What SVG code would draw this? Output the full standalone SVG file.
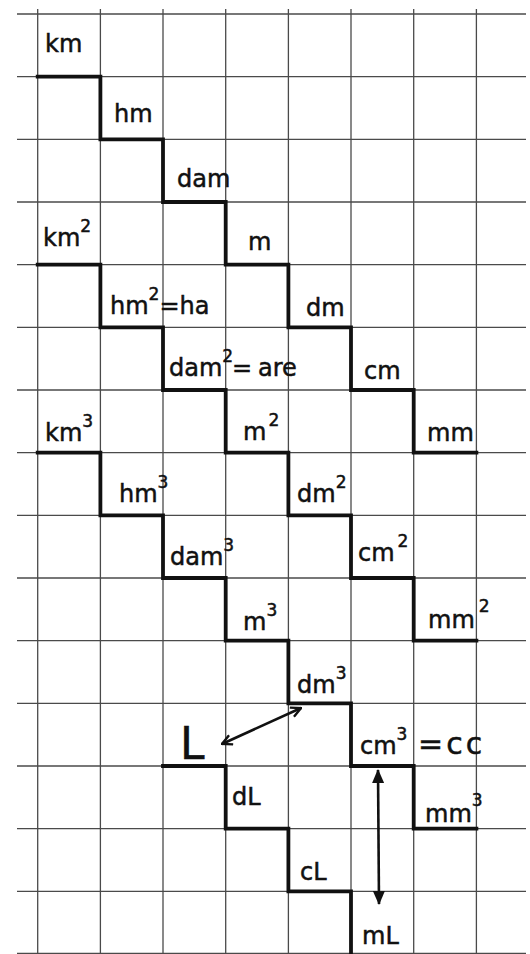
<svg xmlns="http://www.w3.org/2000/svg" width="530" height="954" viewBox="0 0 530 954">
<style>
.grid line{stroke:#4a4a4a;stroke-width:1.3}
.step{fill:none;stroke:#111;stroke-width:3.8;stroke-linejoin:miter;stroke-linecap:square}
text{font-family:"DejaVu Sans","Liberation Sans",sans-serif;font-size:24px;fill:#111;stroke:#111;stroke-width:0.5}
.sup{font-size:17px}
.arr{stroke:#111;stroke-width:2.6;fill:none}
</style>
<defs>
<marker id="open" viewBox="0 0 12 12" refX="11" refY="6" markerWidth="12" markerHeight="12" markerUnits="userSpaceOnUse" orient="auto-start-reverse">
<path d="M1 1 L11 6 L1 11" fill="none" stroke="#111" stroke-width="2.4"/>
</marker>
<marker id="tri" viewBox="0 0 14 12" refX="13" refY="6" markerWidth="16" markerHeight="12" markerUnits="userSpaceOnUse" orient="auto-start-reverse">
<path d="M0 0 L14 6 L0 12 Z" fill="#111"/>
</marker>
</defs>
<rect width="530" height="954" fill="#fff"/>
<g class="grid" id="grid">
<line x1="17" y1="14" x2="526" y2="14"/>
<line x1="17" y1="76.7" x2="526" y2="76.7"/>
<line x1="17" y1="139.3" x2="526" y2="139.3"/>
<line x1="17" y1="202" x2="526" y2="202"/>
<line x1="17" y1="264.7" x2="526" y2="264.7"/>
<line x1="17" y1="327.3" x2="526" y2="327.3"/>
<line x1="17" y1="390" x2="526" y2="390"/>
<line x1="17" y1="452.7" x2="526" y2="452.7"/>
<line x1="17" y1="515.3" x2="526" y2="515.3"/>
<line x1="17" y1="578" x2="526" y2="578"/>
<line x1="17" y1="640.7" x2="526" y2="640.7"/>
<line x1="17" y1="703.3" x2="526" y2="703.3"/>
<line x1="17" y1="766" x2="526" y2="766"/>
<line x1="17" y1="828.7" x2="526" y2="828.7"/>
<line x1="17" y1="891.3" x2="526" y2="891.3"/>
<line x1="17" y1="953.3" x2="526" y2="953.3"/>
<line x1="37.7" y1="9" x2="37.7" y2="954"/>
<line x1="100.4" y1="9" x2="100.4" y2="954"/>
<line x1="163" y1="9" x2="163" y2="954"/>
<line x1="225.7" y1="9" x2="225.7" y2="954"/>
<line x1="288.4" y1="9" x2="288.4" y2="954"/>
<line x1="351" y1="9" x2="351" y2="954"/>
<line x1="413.7" y1="9" x2="413.7" y2="954"/>
<line x1="476.4" y1="9" x2="476.4" y2="954"/>
</g>
<g id="stairs">
<path id="stair-length" class="step" d="M37.7 76.7 H100.4 V139.3 H163 V202 H225.7 V264.7 H288.4 V327.3 H351 V390 H413.7 V452.7 H476.4"/>
<path id="stair-area" class="step" d="M37.7 264.7 H100.4 V327.3 H163 V390 H225.7 V452.7 H288.4 V515.3 H351 V578 H413.7 V640.7 H476.4"/>
<path id="stair-volume" class="step" d="M37.7 452.7 H100.4 V515.3 H163 V578 H225.7 V640.7 H288.4 V703.3 H351 V766 H413.7 V828.7 H476.4"/>
<path id="stair-litre" class="step" d="M163 766 H225.7 V828.7 H288.4 V891.3 H351 V954"/>
</g>
<g id="connectors">
<line class="arr" x1="222" y1="744" x2="301" y2="708" marker-start="url(#open)" marker-end="url(#open)"/>
<line class="arr" x1="378" y1="770" x2="379" y2="904" marker-start="url(#tri)" marker-end="url(#tri)"/>
</g>
<g id="km"><text x="45" y="52">km</text></g>
<g id="hm"><text x="114" y="122">hm</text></g>
<g id="dam"><text x="177" y="187">dam</text></g>
<g id="m"><text x="248" y="250">m</text></g>
<g id="dm"><text x="306" y="316">dm</text></g>
<g id="cm"><text x="364" y="379">cm</text></g>
<g id="mm"><text x="427" y="441">mm</text></g>
<g id="km2"><text x="43" y="246">km<tspan class="sup" dy="-14">2</tspan></text></g>
<g id="hm2"><text x="110" y="314">hm<tspan class="sup" dy="-14">2</tspan><tspan dy="14">=ha</tspan></text></g>
<g id="dam2"><text x="169" y="376">dam<tspan class="sup" dy="-14">2</tspan><tspan dy="14" x="232">=</tspan><tspan x="258">are</tspan></text></g>
<g id="m2"><text x="243" y="440">m<tspan class="sup" dx="2" dy="-14">2</tspan></text></g>
<g id="dm2"><text x="297" y="502">dm<tspan class="sup" dy="-14">2</tspan></text></g>
<g id="cm2"><text x="358" y="561">cm<tspan class="sup" dx="3" dy="-14">2</tspan></text></g>
<g id="mm2"><text x="428" y="628">mm<tspan class="sup" dx="4" dy="-16">2</tspan></text></g>
<g id="km3"><text x="45" y="441">km<tspan class="sup" dy="-14">3</tspan></text></g>
<g id="hm3"><text x="119" y="502">hm<tspan class="sup" dy="-14">3</tspan></text></g>
<g id="dam3"><text x="170" y="565">dam<tspan class="sup" dy="-14">3</tspan></text></g>
<g id="m3"><text x="243" y="630">m<tspan class="sup" dy="-14">3</tspan></text></g>
<g id="dm3"><text x="297" y="693">dm<tspan class="sup" dy="-14">3</tspan></text></g>
<g id="L"><text x="180" y="759" style="font-size:44px">L</text></g>
<g id="cm3"><text x="360" y="754">cm<tspan class="sup" dy="-14">3</tspan><tspan x="418" dy="14" style="font-size:30px;letter-spacing:3px">=cc</tspan></text></g>
<g id="dL"><text x="232" y="805">dL</text></g>
<g id="mm3"><text x="425" y="822">mm<tspan class="sup" dy="-16">3</tspan></text></g>
<g id="cL"><text x="300" y="880">cL</text></g>
<g id="mL"><text x="362" y="944">mL</text></g>
</svg>
